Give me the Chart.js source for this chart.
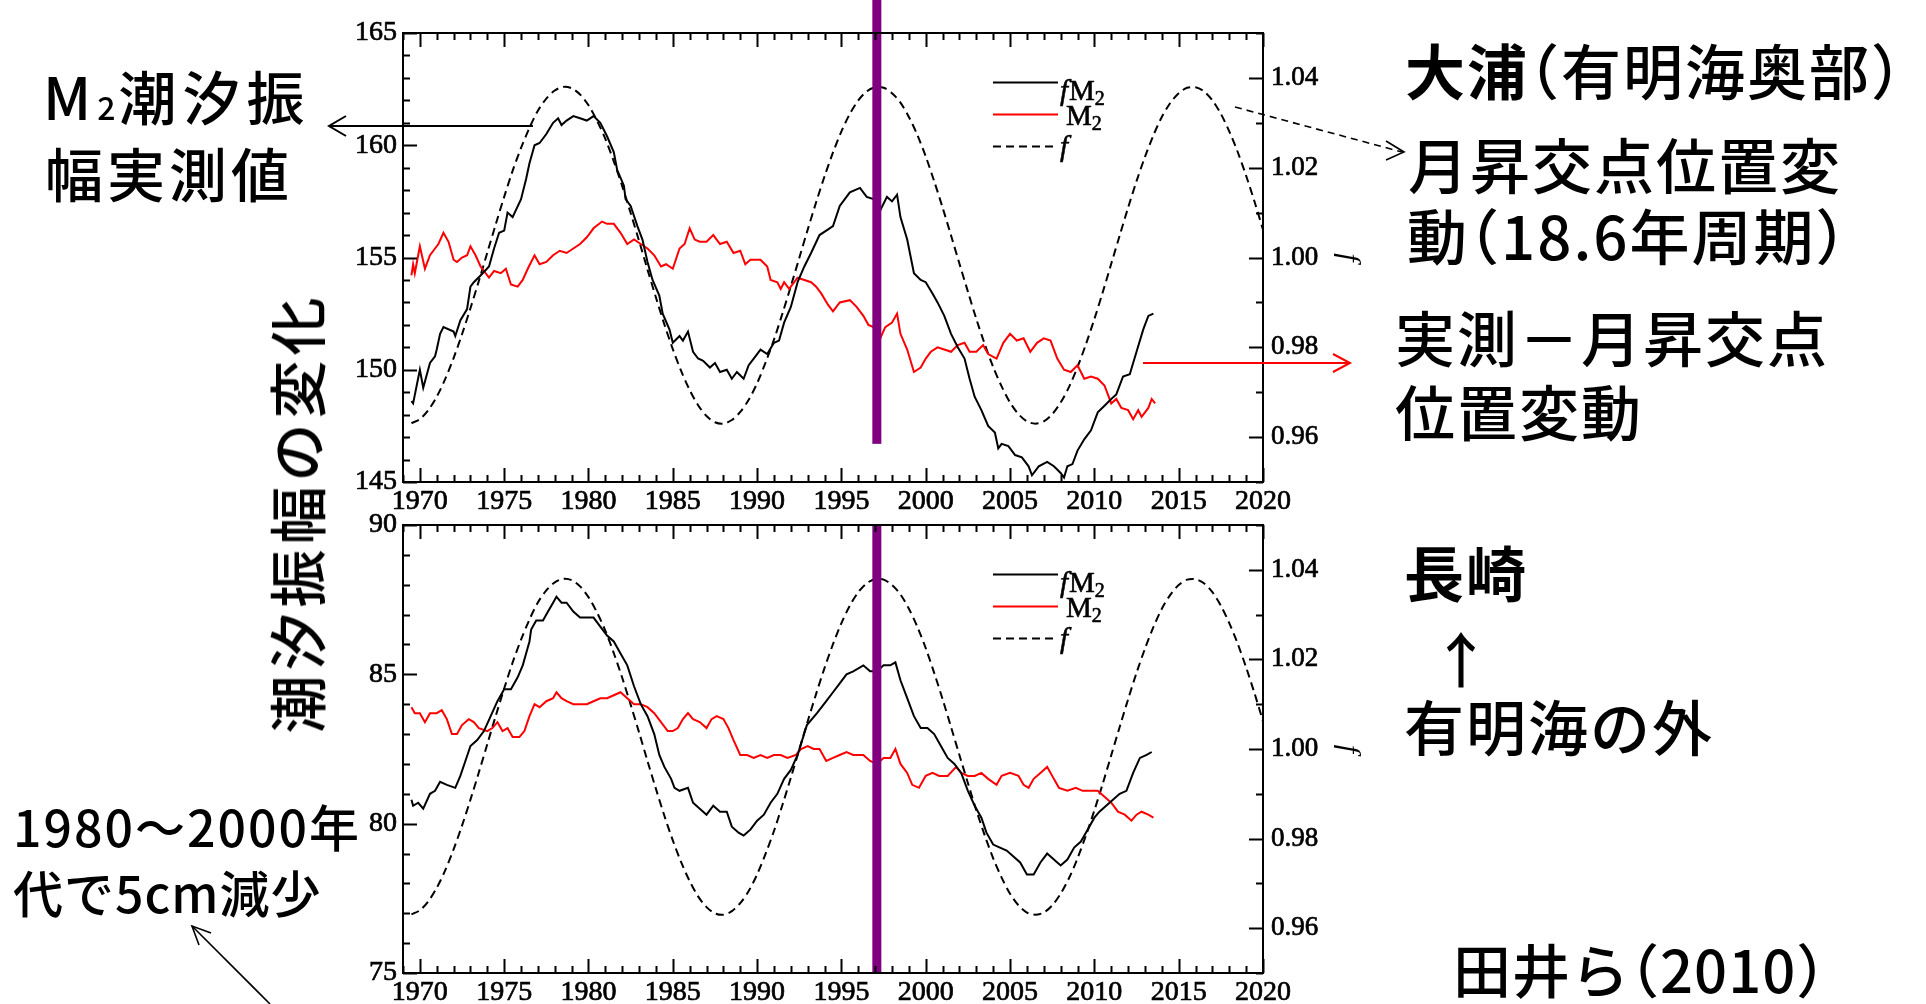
<!DOCTYPE html>
<html><head><meta charset="utf-8">
<script src="https://cdn.jsdelivr.net/npm/chart.js@4.4.0/dist/chart.umd.min.js"></script>
<style>
html,body{margin:0;padding:0;background:#fff;width:1926px;height:1004px;overflow:hidden;position:relative;}
canvas{position:absolute;left:0;}
.t{position:absolute;font-family:"Noto Sans CJK JP";font-size:60px;font-weight:500;line-height:1;white-space:nowrap;color:#000;letter-spacing:2px;z-index:5;}
.t b{font-weight:700;}
.h{font-feature-settings:"halt";}
.v{transform:translate(-50%,-50%) rotate(-90deg);}
svg{position:absolute;left:0;top:0;z-index:6;}
</style>
</head><body>
<canvas id="cA" width="1926" height="520" style="top:0px"></canvas>
<canvas id="cB" width="1926" height="514" style="top:490px"></canvas>

<div class="t" style="left:43px;top:66px;font-size:58px;letter-spacing:6px">M<span style="font-size:32px;letter-spacing:3px">2</span>潮汐振</div>
<div class="t" style="left:45px;top:143px;font-size:58px;letter-spacing:4px">幅実測値</div>
<div class="t v" style="left:295px;top:513px;font-size:58px;letter-spacing:5px">潮汐振幅の変化</div>
<div class="t" style="left:13px;top:800px;font-size:50px;letter-spacing:2px">1980～2000年</div>
<div class="t" style="left:13px;top:866px;font-size:50px;letter-spacing:1px">代で5cm減少</div>
<div class="t" style="left:1405px;top:39px;letter-spacing:2px"><b>大浦</b><span class="h">（</span>有明海奥部<span class="h">）</span></div>
<div class="t" style="left:1408px;top:133px">月昇交点位置変</div>
<div class="t" style="left:1407px;top:204px;letter-spacing:2px">動<span class="h">（</span>18.6年周期<span class="h">）</span></div>
<div class="t" style="left:1395px;top:306px">実測－月昇交点</div>
<div class="t" style="left:1395px;top:380px">位置変動</div>
<div class="t" style="left:1404px;top:541px"><b>長崎</b></div>
<div class="t" style="left:1431px;top:627px">↑</div>
<div class="t" style="left:1404px;top:695px">有明海の外</div>
<div class="t" style="left:1453px;top:939px;font-size:58px;letter-spacing:1px">田井ら<span class="h">（</span>2010<span class="h">）</span></div>

<svg width="1926" height="1004">
  <g fill="none" stroke="#000" stroke-width="2">
    <line x1="533" y1="126" x2="330" y2="126"/>
    <polyline points="346,116 329,126 346,136"/>
    <line x1="1235" y1="107" x2="1402" y2="152" stroke-width="1.6" stroke-dasharray="7,5"/>
    <polyline points="1386,141 1404,152 1386,160" stroke-width="1.6"/>
    <line x1="270" y1="1004" x2="192" y2="926" stroke-width="1.6"/>
    <polyline points="211,933 192,926 199,945" stroke-width="1.6"/>
  </g>
  <g fill="none" stroke="#ff0000" stroke-width="2">
    <line x1="1143" y1="363" x2="1348" y2="363"/>
    <polyline points="1333,354 1350,363 1333,372"/>
  </g>
</svg>

<script>
// ---------- axes ----------
const X_MIN = 1969, X_MAX = 2020;
const F_MIN = 0.95, F_MAX = 1.05;
const TOP_RANGE = [145, 165];
const BOT_RANGE = [75, 90];
const MARKER_YEAR = 1997.1;
const TOP_MARKER = [166.5, 146.7];
const BOT_MARKER = [90, 75];
const LEGEND_LABELS = ['fM2', 'M2', 'f'];

// ---------- nodal factor f (shared) ----------
const fYears = [1969.5,1970,1970.5,1971,1971.5,1972,1972.5,1973,1973.5,1974,1974.5,1975,1975.5,1976,1976.5,1977,1977.5,1978,1978.5,1979,1979.5,1980,1980.5,1981,1981.5,1982,1982.5,1983,1983.5,1984,1984.5,1985,1985.5,1986,1986.5,1987,1987.5,1988,1988.5,1989,1989.5,1990,1990.5,1991,1991.5,1992,1992.5,1993,1993.5,1994,1994.5,1995,1995.5,1996,1996.5,1997,1997.5,1998,1998.5,1999,1999.5,2000,2000.5,2001,2001.5,2002,2002.5,2003,2003.5,2004,2004.5,2005,2005.5,2006,2006.5,2007,2007.5,2008,2008.5,2009,2009.5,2010,2010.5,2011,2011.5,2012,2012.5,2013,2013.5,2014,2014.5,2015,2015.5,2016,2016.5,2017,2017.5,2018,2018.5,2019,2019.5,2020];
const fValues = [0.9631,0.9640,0.9660,0.9690,0.9729,0.9776,0.9829,0.9887,0.9948,1.0011,
1.0074,1.0135,1.0193,1.0244,1.0289,1.0327,1.0354,1.0372,1.0380,1.0377,
1.0363,1.0339,1.0305,1.0264,1.0214,1.0159,1.0099,1.0037,0.9973,0.9911,
0.9851,0.9796,0.9747,0.9705,0.9671,0.9647,0.9633,0.9630,0.9638,0.9656,
0.9683,0.9720,0.9766,0.9817,0.9875,0.9936,0.9999,1.0062,1.0123,1.0181,
1.0234,1.0281,1.0320,1.0350,1.0370,1.0379,1.0378,1.0366,1.0345,1.0313,
1.0273,1.0225,1.0170,1.0111,1.0049,0.9986,0.9924,0.9863,0.9807,0.9756,
0.9713,0.9677,0.9651,0.9635,0.9630,0.9635,0.9651,0.9677,0.9712,0.9756,
0.9807,0.9863,0.9923,0.9986,1.0049,1.0111,1.0170,1.0224,1.0272,1.0313,
1.0344,1.0366,1.0378,1.0379,1.0370,1.0350,1.0320,1.0281,1.0235,1.0182,
1.0124,1.0062];

// ---------- Oura (top) ----------
const oFM2Years = [1969.5,1969.6,1970.0,1970.2,1970.6,1970.9,1971.0,1971.2,1971.4,1972.0,1972.1,1972.4,1972.8,1973.0,1973.2,1973.6,1974.1,1974.4,1974.7,1975.0,1975.2,1975.5,1976.0,1976.3,1976.5,1976.8,1977.1,1977.5,1977.9,1978.2,1978.4,1978.7,1979.1,1979.5,1979.9,1980.3,1980.7,1981.1,1981.5,1981.7,1982.1,1982.2,1982.5,1982.9,1983.2,1983.5,1983.8,1984.2,1984.4,1984.8,1985.0,1985.4,1985.6,1985.9,1986.2,1986.5,1986.8,1987.2,1987.5,1987.8,1988.2,1988.5,1988.8,1989.2,1989.5,1989.8,1990.2,1990.6,1991.0,1991.3,1991.6,1992.0,1992.4,1992.8,1993.2,1993.7,1994.1,1994.5,1994.9,1995.3,1995.5,1996.1,1996.5,1996.9,1997.3,1997.7,1998.0,1998.3,1998.5,1998.9,1999.3,1999.7,2000.0,2000.4,2000.7,2001.1,2001.5,2001.9,2002.3,2002.6,2002.9,2003.3,2003.7,2004.1,2004.3,2004.5,2004.9,2005.3,2005.7,2006.1,2006.3,2006.7,2007.2,2007.6,2008.0,2008.2,2008.4,2008.7,2009.0,2009.4,2009.8,2010.2,2010.6,2011.0,2011.3,2011.7,2012.1,2012.5,2012.9,2013.2,2013.5];
const oFM2 = [148.6,148.5,150.0,149.2,150.3,150.6,150.9,151.6,151.9,151.7,151.5,152.2,152.7,153.7,153.9,154.2,154.6,155.4,156.1,156.2,157.0,156.8,157.6,158.5,159.2,160.0,160.1,160.5,161.0,161.2,160.9,161.1,161.3,161.2,161.1,161.3,161.0,160.4,159.7,158.9,158.2,157.6,157.3,156.4,155.8,154.8,154.0,153.3,152.5,151.8,151.2,151.5,151.3,151.7,150.8,150.5,150.4,150.1,150.3,149.9,150.0,149.6,149.9,149.6,150.2,150.5,150.9,150.7,151.2,151.3,152.1,152.8,153.9,154.6,155.2,156.0,156.2,156.4,157.3,157.7,157.9,158.1,157.7,157.6,157.1,157.7,157.5,157.8,156.8,155.8,154.3,154.0,153.9,153.4,153.0,152.4,151.6,151.0,150.5,149.6,148.8,148.2,147.5,147.2,146.5,146.7,146.6,146.2,146.1,145.7,145.3,145.7,145.9,145.7,145.4,145.2,145.7,145.8,146.4,146.9,147.3,148.1,148.4,148.7,148.9,149.7,149.8,150.8,151.8,152.4,152.5];
const oM2Years = [1969.5,1969.6,1969.7,1970.0,1970.3,1970.6,1970.9,1971.1,1971.4,1971.7,1972.0,1972.2,1972.5,1972.8,1973.0,1973.3,1973.6,1974.1,1974.4,1974.8,1975.1,1975.4,1975.8,1976.1,1976.4,1976.6,1976.8,1977.1,1977.5,1977.9,1978.3,1978.7,1979.1,1979.5,1979.9,1980.3,1980.8,1981.1,1981.5,1981.9,1982.3,1982.7,1983.1,1983.5,1983.9,1984.3,1984.6,1985.0,1985.4,1985.7,1986.0,1986.3,1986.6,1987.0,1987.4,1987.8,1988.2,1988.6,1989.0,1989.3,1989.6,1990.2,1990.6,1990.8,1991.2,1991.4,1991.6,1991.9,1992.2,1992.4,1992.8,1993.2,1993.5,1993.8,1994.2,1994.5,1994.9,1995.5,1995.9,1996.3,1996.6,1996.9,1997.3,1997.6,1998.0,1998.3,1998.5,1998.9,1999.3,1999.7,2000.0,2000.3,2000.7,2001.1,2001.5,2001.9,2002.3,2002.6,2003.0,2003.4,2003.7,2004.2,2004.6,2005.0,2005.4,2005.8,2006.2,2006.6,2007.0,2007.4,2007.8,2008.2,2008.6,2009.0,2009.4,2009.8,2010.2,2010.6,2011.0,2011.3,2011.6,2012.0,2012.3,2012.6,2012.8,2013.2,2013.4,2013.6];
const oM2 = [154.2,154.7,154.3,155.5,154.5,155.1,155.4,155.6,156.1,155.7,154.9,154.8,155.0,155.1,155.5,155.1,154.6,154.1,154.4,154.3,154.5,153.8,153.7,154.0,154.5,154.8,155.1,154.7,154.8,155.1,155.3,155.2,155.4,155.6,155.9,156.3,156.6,156.5,156.5,156.1,155.6,155.8,155.6,155.4,155.1,154.6,154.7,154.5,155.4,155.6,156.3,155.8,155.7,155.7,156.0,155.6,155.7,155.2,155.3,154.7,154.9,154.9,154.6,154.0,153.9,153.6,153.9,153.6,153.9,154.1,154.0,153.9,153.7,153.4,152.9,152.6,153.0,153.1,152.8,152.4,152.0,151.9,151.4,151.9,152.1,152.5,151.6,150.9,149.9,150.1,150.5,150.8,151.0,150.9,150.8,151.1,151.2,150.8,150.8,151.1,150.7,150.5,151.2,151.6,151.3,151.4,150.8,151.2,151.4,151.3,150.5,150.0,149.9,150.2,149.6,149.7,149.6,149.3,148.5,148.7,148.3,148.2,147.8,148.2,147.9,148.3,148.7,148.5];

// ---------- Nagasaki (bottom) ----------
const nFM2Years = [1969.5,1969.6,1969.9,1970.2,1970.6,1970.9,1971.2,1971.6,1972.1,1972.4,1972.7,1973.0,1973.4,1973.8,1974.2,1974.6,1975.0,1975.4,1975.8,1976.1,1976.3,1976.5,1976.6,1976.9,1977.3,1977.6,1977.9,1978.1,1978.4,1978.7,1979.1,1979.5,1979.9,1980.3,1980.7,1981.1,1981.5,1981.9,1982.3,1982.7,1983.1,1983.5,1983.9,1984.2,1984.5,1984.9,1985.1,1985.4,1985.9,1986.2,1986.6,1987.0,1987.4,1987.8,1988.2,1988.5,1988.9,1989.2,1989.6,1990.0,1990.4,1990.8,1991.2,1991.6,1992.0,1992.4,1992.95,1993.55,1994.1,1994.5,1994.9,1995.3,1995.7,1996.3,1996.7,1997.1,1997.5,1997.9,1998.2,1998.5,1998.9,1999.3,1999.7,2000.1,2000.5,2000.9,2001.3,2001.7,2002.1,2002.5,2002.9,2003.3,2003.6,2004.0,2004.4,2004.8,2005.2,2005.6,2006.0,2006.4,2006.8,2007.2,2007.6,2008.0,2008.4,2008.8,2009.2,2009.6,2010.0,2010.3,2010.7,2011.1,2011.5,2011.9,2012.3,2012.7,2013.1,2013.4];
const nFM2 = [80.8,80.6,80.7,80.5,81.0,81.1,81.4,81.3,81.2,81.6,82.1,82.6,82.8,83.1,83.6,84.1,84.5,84.5,84.9,85.3,85.7,86.1,86.5,86.8,86.8,87.1,87.4,87.6,87.4,87.4,87.1,86.9,86.9,86.9,86.6,86.3,86.1,85.7,85.3,84.6,84.0,83.6,83.0,82.3,81.9,81.5,81.2,81.1,81.2,80.7,80.5,80.3,80.6,80.4,80.4,79.9,79.7,79.6,79.8,80.1,80.3,80.7,81.0,81.5,81.8,82.3,83.3,83.7,84.1,84.4,84.7,85.0,85.1,85.3,85.1,85.1,85.3,85.3,85.4,84.8,84.2,83.6,83.2,83.2,83.0,82.6,82.2,82.0,81.7,81.1,80.6,80.2,79.7,79.3,79.2,79.1,78.9,78.7,78.3,78.3,78.7,79.0,78.8,78.6,78.8,79.2,79.4,79.8,80.2,80.4,80.6,80.8,81.0,81.1,81.7,82.2,82.3,82.4];
const nM2Years = [1969.5,1969.7,1970.0,1970.3,1970.6,1971.0,1971.3,1971.6,1971.9,1972.2,1972.5,1972.9,1973.2,1973.5,1974.0,1974.3,1974.6,1974.9,1975.2,1975.5,1975.9,1976.2,1976.5,1976.8,1977.1,1977.5,1977.9,1978.1,1978.4,1978.7,1979.1,1979.5,1979.9,1980.3,1980.7,1981.1,1981.5,1981.9,1982.3,1982.7,1983.1,1983.5,1983.9,1984.3,1984.7,1985.0,1985.3,1985.6,1985.9,1986.2,1986.6,1987.0,1987.3,1987.6,1988.0,1988.3,1988.6,1989.0,1989.4,1989.8,1990.2,1990.6,1991.0,1991.4,1991.8,1992.3,1992.6,1993.0,1993.35,1993.7,1994.1,1994.5,1994.9,1995.3,1995.7,1996.3,1996.7,1997.1,1997.5,1997.9,1998.2,1998.5,1998.9,1999.2,1999.6,2000.0,2000.4,2000.8,2001.3,2001.8,2002.1,2002.5,2002.9,2003.3,2003.7,2004.2,2004.5,2005.0,2005.5,2005.8,2006.1,2006.4,2006.8,2007.2,2007.5,2007.9,2008.4,2008.9,2009.3,2009.8,2010.2,2010.6,2011.0,2011.4,2011.8,2012.2,2012.5,2012.8,2013.2,2013.5];
const nM2 = [83.9,83.7,83.7,83.4,83.7,83.7,83.8,83.5,83.0,83.0,83.3,83.5,83.4,83.2,83.1,83.2,83.4,83.1,83.2,82.9,82.9,83.1,83.6,84.0,83.9,84.1,84.2,84.4,84.2,84.1,84.0,84.0,84.0,84.1,84.2,84.2,84.3,84.4,84.2,84.0,84.0,83.9,83.7,83.4,83.1,83.1,83.2,83.5,83.7,83.5,83.4,83.2,83.5,83.6,83.5,83.2,82.8,82.3,82.3,82.2,82.3,82.2,82.3,82.3,82.2,82.3,82.5,82.6,82.5,82.5,82.1,82.2,82.3,82.4,82.3,82.3,82.1,82.0,82.2,82.2,82.5,82.0,81.7,81.3,81.2,81.6,81.7,81.6,81.6,81.9,81.7,81.6,81.6,81.7,81.5,81.3,81.6,81.7,81.6,81.3,81.2,81.5,81.7,81.9,81.6,81.2,81.1,81.2,81.1,81.1,81.1,80.9,80.7,80.4,80.3,80.1,80.3,80.4,80.3,80.2];

// ---------- rendering ----------
Chart.defaults.font.family = "'Liberation Serif', 'Times New Roman', serif";
Chart.defaults.color = '#000';

function pts(xs, ys) { return xs.map((x, i) => ({x: x, y: ys[i]})); }

const framePlugin = {
  id: 'frameTicks',
  afterDatasetsDraw(chart, args, opts) {
    const {ctx, chartArea: a, scales} = chart;
    const x = scales.x, y = scales.y, y1 = scales.y1;
    ctx.save();
    const mx = x.getPixelForValue(opts.markerYear);
    const t = y.getPixelForValue(opts.marker[0]);
    const b = y.getPixelForValue(opts.marker[1]);
    ctx.fillStyle = '#800080';
    ctx.fillRect(mx - 4.5, Math.min(t, b), 9, Math.abs(b - t));
    ctx.strokeStyle = '#000';
    ctx.lineWidth = 2;
    ctx.strokeRect(a.left, a.top, a.right - a.left, a.bottom - a.top);
    ctx.beginPath();
    x.ticks.forEach(tk => {
      const v = tk.value;
      const px = Math.round(x.getPixelForValue(v)) + 0.5;
      const L = Math.abs(v % 5) < 1e-6 ? 14 : 7;
      ctx.moveTo(px, a.bottom); ctx.lineTo(px, a.bottom - L);
      ctx.moveTo(px, a.top); ctx.lineTo(px, a.top + L);
    });
    y.ticks.forEach(tk => {
      const v = tk.value;
      const py = Math.round(y.getPixelForValue(v)) + 0.5;
      const L = Math.abs(v % 5) < 1e-6 ? 14 : 7;
      ctx.moveTo(a.left, py); ctx.lineTo(a.left + L, py);
    });
    y1.ticks.forEach(tk => {
      const k = Math.round(tk.value * 100);
      const py = Math.round(y1.getPixelForValue(tk.value)) + 0.5;
      const L = k % 2 === 0 ? 14 : 7;
      ctx.moveTo(a.right, py); ctx.lineTo(a.right - L, py);
    });
    ctx.stroke();
    // legend
    const lineOff = [49, 81, 113];
    const baseOff = [67, 92, 123];
    const lx0 = a.right - 270, lx1 = a.right - 205, tx = a.right - 203;
    chart.data.datasets.forEach((ds, i) => {
      const ly = Math.round(a.top + lineOff[i]) + 0.5;
      ctx.beginPath();
      ctx.strokeStyle = ds.borderColor;
      ctx.lineWidth = 2;
      ctx.setLineDash(ds.borderDash || []);
      ctx.moveTo(lx0, ly); ctx.lineTo(lx1, ly);
      ctx.stroke();
      ctx.setLineDash([]);
      const label = ds.label;
      let cx = label[0] === 'f' ? tx : tx + 6;
      const base = a.top + baseOff[i];
      ctx.fillStyle = '#000';
      ctx.strokeStyle = '#000';
      ctx.lineWidth = 0.6;
      ctx.textBaseline = 'alphabetic';
      ctx.textAlign = 'left';
      for (const ch of label) {
        let dy = 0;
        if (ch === 'f') ctx.font = "italic 29px 'Liberation Serif'";
        else if (/[0-9]/.test(ch)) { ctx.font = "20px 'Liberation Serif'"; dy = 5; }
        else ctx.font = "29px 'Liberation Serif'";
        ctx.fillText(ch, cx, base + dy);
        ctx.strokeText(ch, cx, base + dy);
        cx += ctx.measureText(ch).width + (ch === 'f' ? 1 : 0);
      }
    });
    ctx.restore();
  }
};

function buildChart(id, o) {
  return new Chart(document.getElementById(id), {
    type: 'line',
    data: {
      datasets: [
        {label: LEGEND_LABELS[0], data: pts(o.fm2Years, o.fm2), borderColor: '#000000', borderWidth: 2, pointRadius: 0, yAxisID: 'y', tension: 0},
        {label: LEGEND_LABELS[1], data: pts(o.m2Years, o.m2), borderColor: '#ff0000', borderWidth: 2, pointRadius: 0, yAxisID: 'y', tension: 0},
        {label: LEGEND_LABELS[2], data: pts(fYears, fValues), borderColor: '#000000', borderWidth: 2, borderDash: [8, 5], pointRadius: 0, yAxisID: 'y1', tension: 0.3}
      ]
    },
    options: {
      responsive: false,
      animation: false,
      devicePixelRatio: 1,
      events: [],
      layout: {padding: {top: o.padTop, right: 557, left: 0, bottom: 0}},
      plugins: {
        legend: {display: false},
        tooltip: {enabled: false},
        frameTicks: {markerYear: MARKER_YEAR, marker: o.marker}
      },
      scales: {
        x: {
          type: 'linear', min: X_MIN, max: X_MAX,
          afterFit(s) { s.height = o.xH; },
          grid: {display: false, drawTicks: false, tickLength: 0}, border: {display: false},
          ticks: {stepSize: 1, autoSkip: false, maxRotation: 0, minRotation: 0, padding: 3,
                  font: {size: 28}, color: '#000', textStrokeColor: '#000', textStrokeWidth: 0.7,
                  callback: v => (Math.abs(v % 5) < 1e-6 ? String(v) : '')}
        },
        y: {
          type: 'linear', position: 'left', min: o.range[0], max: o.range[1],
          afterFit(s) { s.width = 403; },
          grid: {display: false, drawTicks: false, tickLength: 0}, border: {display: false},
          ticks: {stepSize: 1, autoSkip: false, padding: 6, font: {size: 28}, color: '#000',
                  textStrokeColor: '#000', textStrokeWidth: 0.7,
                  callback: v => (Math.abs(v % 5) < 1e-6 ? String(v) : '')}
        },
        y1: {
          type: 'linear', position: 'right', min: F_MIN, max: F_MAX,
          afterFit(s) { s.width = 106; },
          grid: {display: false, drawTicks: false, tickLength: 0}, border: {display: false},
          title: {display: true, text: 'f', color: '#000', font: {size: 30, style: 'italic'}, padding: {top: 3, bottom: 0}},
          ticks: {stepSize: 0.01, autoSkip: false, padding: 8, font: {size: 27}, color: '#000',
                  textStrokeColor: '#000', textStrokeWidth: 0.7,
                  callback: v => (Math.round(v * 100) % 2 === 0 ? v.toFixed(2) : '')}
        }
      }
    },
    plugins: [framePlugin]
  });
}

buildChart('cA', {fm2Years: oFM2Years, fm2: oFM2, m2Years: oM2Years, m2: oM2, range: TOP_RANGE, marker: TOP_MARKER, padTop: 33, xH: 38});
buildChart('cB', {fm2Years: nFM2Years, fm2: nFM2, m2Years: nM2Years, m2: nM2, range: BOT_RANGE, marker: BOT_MARKER, padTop: 35, xH: 31});
</script>
</body></html>
